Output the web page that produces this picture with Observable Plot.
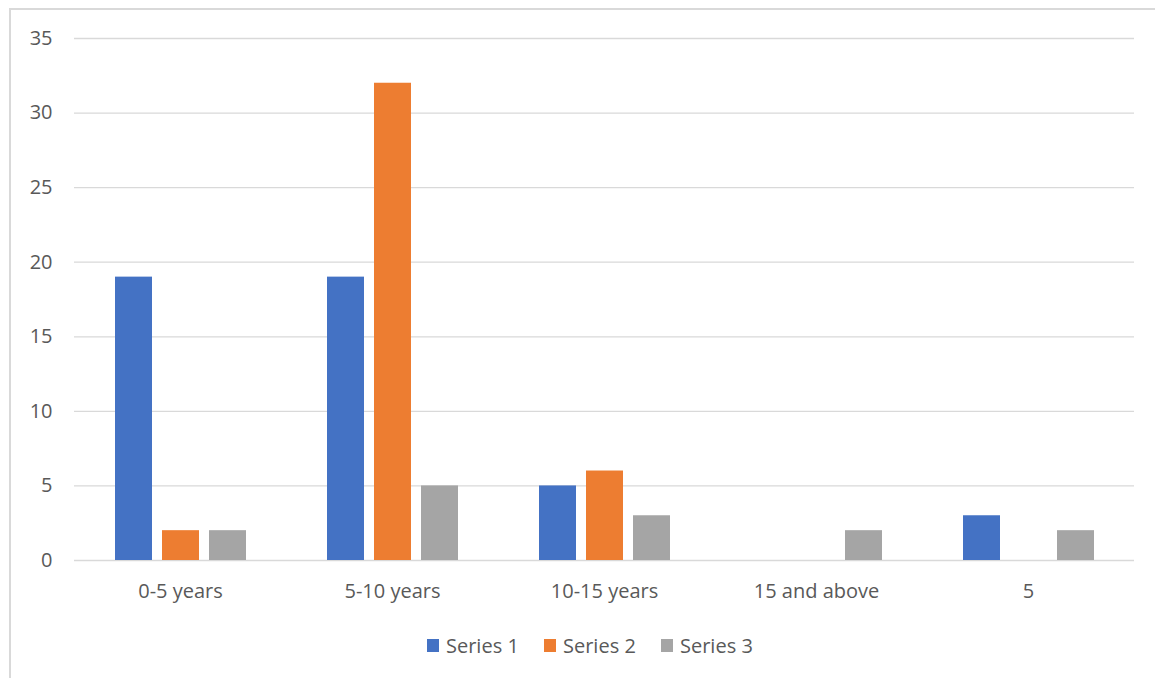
<!DOCTYPE html>
<html>
<head>
<meta charset="utf-8">
<script src="https://cdn.jsdelivr.net/npm/d3@7"></script>
<script src="https://cdn.jsdelivr.net/npm/@observablehq/plot@0.6"></script>
<style>
  html, body { margin: 0; padding: 0; background: #fff; width: 1155px; height: 678px; overflow: hidden; }
  #frame { position: absolute; left: 9px; top: 8px; width: 1200px; height: 700px; border-left: 2px solid #d9d9d9; border-top: 2px solid #d9d9d9; }
  #chart { position: absolute; left: 0; top: 0; }
  #legend { position: absolute; left: 427px; top: 632px; font-family: "Open Sans", sans-serif; font-size: 20px; color: #595959; display: flex; align-items: center; white-space: nowrap; }
  .item { display: flex; align-items: center; width: 117px; }
  .sw { width: 12px; height: 13px; margin-right: 7px; flex: none; }
</style>
</head>
<body>
<div id="frame"></div>
<div id="chart"></div>
<div id="legend"></div>
<script>
const categories = ["0-5 years", "5-10 years", "10-15 years", "15 and above", "5"];
const seriesNames = ["Series 1", "Series 2", "Series 3"];
const series1 = [19, 19, 5, 0, 3];
const series2 = [2, 32, 6, 0, 0];
const series3 = [2, 5, 3, 2, 2];
const colors = ["#4472C4", "#ED7D31", "#A5A5A5"];
const yTicks = [0, 5, 10, 15, 20, 25, 30, 35];

const seriesValues = [series1, series2, series3];
const data = [];
categories.forEach((c, i) => {
  seriesNames.forEach((s, j) => {
    data.push({category: c, series: s, value: seriesValues[j][i]});
  });
});

const chart = Plot.plot({
  width: 1155,
  height: 615,
  marginLeft: 73,
  marginRight: 21,
  marginTop: 38,
  marginBottom: 55,
  style: {fontFamily: "'Open Sans', sans-serif", fontSize: "20px", color: "#595959", background: "transparent"},
  fx: {domain: categories, padding: 0, label: null, axis: "bottom", tickSize: 0, tickPadding: 23},
  x: {domain: seriesNames, paddingInner: 0.22, paddingOuter: 0.86, axis: null},
  y: {domain: [0, 35], ticks: yTicks, tickSize: 0, tickPadding: 22, label: null, grid: false},
  color: {domain: seriesNames, range: colors},
  marks: [
    Plot.ruleY(yTicks, {stroke: "#d9d9d9", strokeWidth: 1.3}),
    Plot.barY(data, {fx: "category", x: "series", y: "value", fill: "series"})
  ]
});
document.getElementById("chart").appendChild(chart);

const legend = document.getElementById("legend");
seriesNames.forEach((s, j) => {
  const item = document.createElement("div");
  item.className = "item";
  const sw = document.createElement("div");
  sw.className = "sw";
  sw.style.background = colors[j];
  const t = document.createElement("span");
  t.textContent = s;
  item.appendChild(sw);
  item.appendChild(t);
  legend.appendChild(item);
});
</script>
</body>
</html>
